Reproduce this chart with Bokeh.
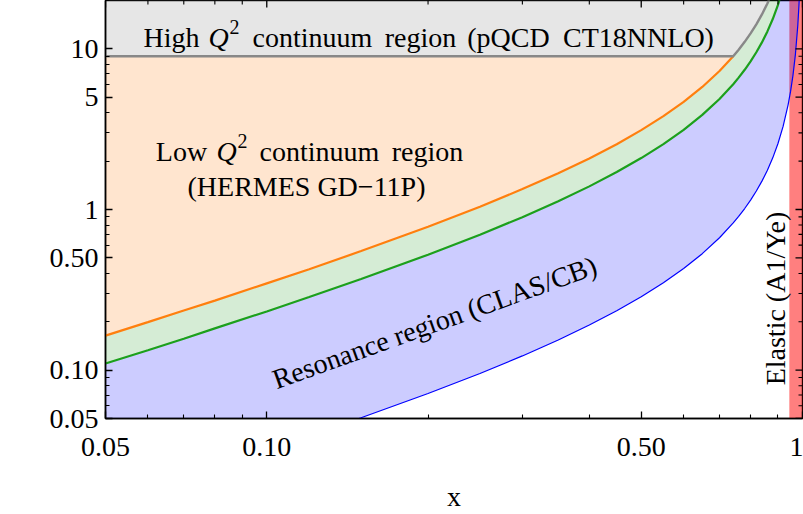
import json
import math
import numpy as np
from bokeh.plotting import figure
from bokeh.models import FixedTicker, Label, CustomJSTickFormatter, Range1d
from bokeh.embed import file_html
from bokeh.resources import INLINE

# ---------------- data ----------------
x_vals = [0.05, 0.06, 0.07, 0.08, 0.10, 0.12, 0.15, 0.20, 0.25, 0.30, 0.35, 0.40,
          0.45, 0.50, 0.55, 0.60, 0.65, 0.70, 0.7425, 0.76, 0.78, 0.80, 0.82, 0.84,
          0.86, 0.88, 0.90, 0.92, 0.94, 0.95, 0.96, 0.97, 0.98, 0.985, 0.99]
# orange boundary (continuum / resonance edge)
q2_orange = [0.164, 0.199, 0.235, 0.271, 0.347, 0.425, 0.551, 0.780, 1.04, 1.34, 1.68, 2.08,
             2.55, 3.12, 3.81, 4.68, 5.79, 7.28, 9.00, 9.88, 11.06, 12.48, 14.21, 16.38,
             19.17, 22.9, 28.1, 35.9, 48.9, 59.3, 74.9, 101.0, 153.0, 205.0, 309.0]
# green boundary
q2_green = [0.110, 0.133, 0.157, 0.182, 0.232, 0.285, 0.369, 0.523, 0.697, 0.896, 1.125, 1.393,
            1.710, 2.09, 2.554, 3.135, 3.881, 4.877, 6.027, 6.618, 7.410, 8.36, 9.521, 10.97,
            12.84, 15.33, 18.81, 24.0, 32.7, 39.7, 50.2, 67.6, 102.0, 137.0, 207.0]
# blue boundary (lower edge of the resonance region)
q2_blue = [0.0151, 0.0183, 0.0215, 0.0249, 0.0318, 0.0390, 0.0505, 0.0715, 0.0953, 0.1226, 0.154, 0.191,
           0.234, 0.286, 0.350, 0.429, 0.531, 0.667, 0.825, 0.906, 1.014, 1.144, 1.303, 1.502,
           1.757, 2.097, 2.574, 3.289, 4.481, 5.434, 6.864, 9.247, 14.01, 18.78, 28.3]
q2_high_cut = 9.0            # lower edge of the high-Q2 region
elastic_x = [0.945, 1.0]     # elastic band

x_range = [0.05, 1.0]
y_range = [0.05, 20.0]
x_major = [0.05, 0.1, 0.5, 1.0]
x_major_labels = ["0.05", "0.10", "0.50", "1"]
x_minor = [0.06, 0.07, 0.08, 0.09, 0.2, 0.3, 0.4, 0.6, 0.7, 0.8, 0.9]
y_major = [0.05, 0.1, 0.5, 1.0, 5.0, 10.0]
y_major_labels = ["0.05", "0.10", "0.50", "1", "5", "10"]
y_minor = [0.06, 0.07, 0.08, 0.09, 0.2, 0.3, 0.4, 0.6, 0.7, 0.8, 0.9,
           2, 3, 4, 6, 7, 8, 9, 20]

# ---------------- figure ----------------
FONT = "Liberation Serif"
FL, FR, FT, FB = 105, 802, 0, 418   # intended frame edges in page pixels

p = figure(frame_width=FR - FL, frame_height=FB - FT,
           x_axis_type="log", y_axis_type="log",
           x_range=Range1d(*x_range), y_range=Range1d(*y_range),
           output_backend="svg", toolbar_location=None,
           min_border_left=FL, min_border_right=1, min_border_top=0, min_border_bottom=96)
p.background_fill_color = "white"
p.border_fill_color = "white"
p.outline_line_color = "black"
p.outline_line_width = 1.5
p.grid.visible = False

X = np.array(x_vals)
QO = np.array(q2_orange)
QG = np.array(q2_green)
QB = np.array(q2_blue)
TOP = 100.0
BOT = 0.01
n_cut = int(np.argmin(np.abs(QO - q2_high_cut))) + 1  # points up to the 9 GeV^2 crossing

# fills
p.varea(x=X, y1=np.minimum(np.maximum(QO, q2_high_cut), TOP), y2=TOP,
        fill_color="#808080", fill_alpha=0.2)
p.varea(x=X[:n_cut], y1=QO[:n_cut], y2=q2_high_cut, fill_color="#ff7f0e", fill_alpha=0.2)
p.varea(x=X, y1=QG, y2=QO, fill_color="#2ca02c", fill_alpha=0.2)
p.quad(left=[elastic_x[0]], right=[elastic_x[1]], bottom=[BOT], top=[TOP],
       fill_color="#ff0000", fill_alpha=0.5, line_color=None)
p.varea(x=X, y1=QB, y2=QG, fill_color="#0000ff", fill_alpha=0.2)

# lines
p.line(X, QB, line_color="#0000ff", line_width=1.2)
p.line(X, QG, line_color="#1ca01c", line_width=2.2)
p.line(X[:n_cut], QO[:n_cut], line_color="#ff7f0e", line_width=2.2)
gx = np.concatenate([[x_range[0]], X[n_cut - 1:]])
gy = np.concatenate([[q2_high_cut], QO[n_cut - 1:]])
p.line(gx, gy, line_color="#888888", line_width=2.4)

# ---------------- axes ----------------
def fmt(values, labels):
    m = {str(v if v != int(v) else int(v)): l for v, l in zip(values, labels)}
    return CustomJSTickFormatter(code="const m = %s; const k = String(tick); return (k in m) ? m[k] : k;" % json.dumps(m))

def style_axis(ax, ticks, minor, labels):
    ax.ticker = FixedTicker(ticks=ticks, minor_ticks=minor)
    ax.formatter = fmt(ticks, labels)
    ax.major_tick_in = 7
    ax.major_tick_out = 0
    ax.minor_tick_in = 4
    ax.minor_tick_out = 0
    ax.axis_line_color = "black"
    ax.axis_line_width = 1.5
    ax.major_tick_line_color = "black"
    ax.major_tick_line_width = 1.3
    ax.minor_tick_line_color = "black"
    ax.minor_tick_line_width = 1.1
    ax.major_label_text_font = FONT
    ax.major_label_text_color = "black"
    ax.major_label_text_font_size = "28px"
    ax.major_label_standoff = 7

style_axis(p.xaxis[0], x_major, x_minor, x_major_labels)
style_axis(p.yaxis[0], y_major, y_minor, y_major_labels)
p.xaxis[0].major_label_standoff = 19
p.xaxis[0].axis_label = "x"
p.xaxis[0].axis_label_text_font = FONT
p.xaxis[0].axis_label_text_font_size = "28px"
p.xaxis[0].axis_label_text_font_style = "normal"
p.xaxis[0].axis_label_text_color = "black"
p.xaxis[0].axis_label_standoff = 22

# inward ticks on the top and right edges of the frame
p.ray(x=x_major, y=[y_range[1]] * len(x_major), length=7, length_units="screen",
      angle=-math.pi / 2, line_color="black", line_width=1.3)
p.ray(x=x_minor, y=[y_range[1]] * len(x_minor), length=4, length_units="screen",
      angle=-math.pi / 2, line_color="black", line_width=1.1)
p.ray(x=[x_range[1]] * len(y_major), y=y_major, length=7, length_units="screen",
      angle=math.pi, line_color="black", line_width=1.3)
p.ray(x=[x_range[1]] * len(y_minor), y=y_minor, length=4, length_units="screen",
      angle=math.pi, line_color="black", line_width=1.1)

# ---------------- texts ----------------
def dx(px):
    return x_range[0] * (x_range[1] / x_range[0]) ** ((px - FL) / (FR - FL))

def dy(py):
    return y_range[0] * (y_range[1] / y_range[0]) ** ((FB - py) / (FB - FT))

def add_text(text, px, py, size=28, style="normal", align="left", baseline="alphabetic", angle=0.0):
    p.add_layout(Label(x=dx(px), y=dy(py), text=text, text_font=FONT,
                       text_font_size=f"{size}px", text_font_style=style,
                       text_align=align, text_baseline=baseline, angle=angle,
                       text_color="black"))

# High Q^2 continuum region (pQCD CT18NNLO)
add_text("High", 171, 37, align="center")
add_text("Q", 208, 37, style="italic")
add_text("2", 229, 26, size=20)
add_text("continuum", 312, 37, align="center")
add_text("region", 420, 37, align="center")
add_text("(pQCD", 508, 37, align="center")
add_text("CT18NNLO)", 638, 37, align="center")
# Low Q^2 continuum region
add_text("Low", 181, 151, align="center")
add_text("Q", 216, 151, style="italic")
add_text("2", 237, 140, size=20)
add_text("continuum", 319, 151, align="center")
add_text("region", 427, 151, align="center")
add_text("(HERMES GD\u221211P)", 306, 186, align="center")
# resonance & elastic
add_text("Resonance region (CLAS/CB)", 434, 322, align="center", baseline="middle", angle=0.345)
add_text("Elastic (A1/Ye)", 775, 298, align="center", baseline="middle", angle=math.pi / 2)
# y-axis label
add_text("Q", 35, 264, style="italic", angle=math.pi / 2)
add_text("2", 24, 243, size=20, angle=math.pi / 2)
add_text("[GeV", 35, 226, angle=math.pi / 2)
add_text("2", 24, 164, size=20, angle=math.pi / 2)
add_text("]", 35, 154, angle=math.pi / 2)

open("out.html", "w").write(file_html(p, INLINE))
